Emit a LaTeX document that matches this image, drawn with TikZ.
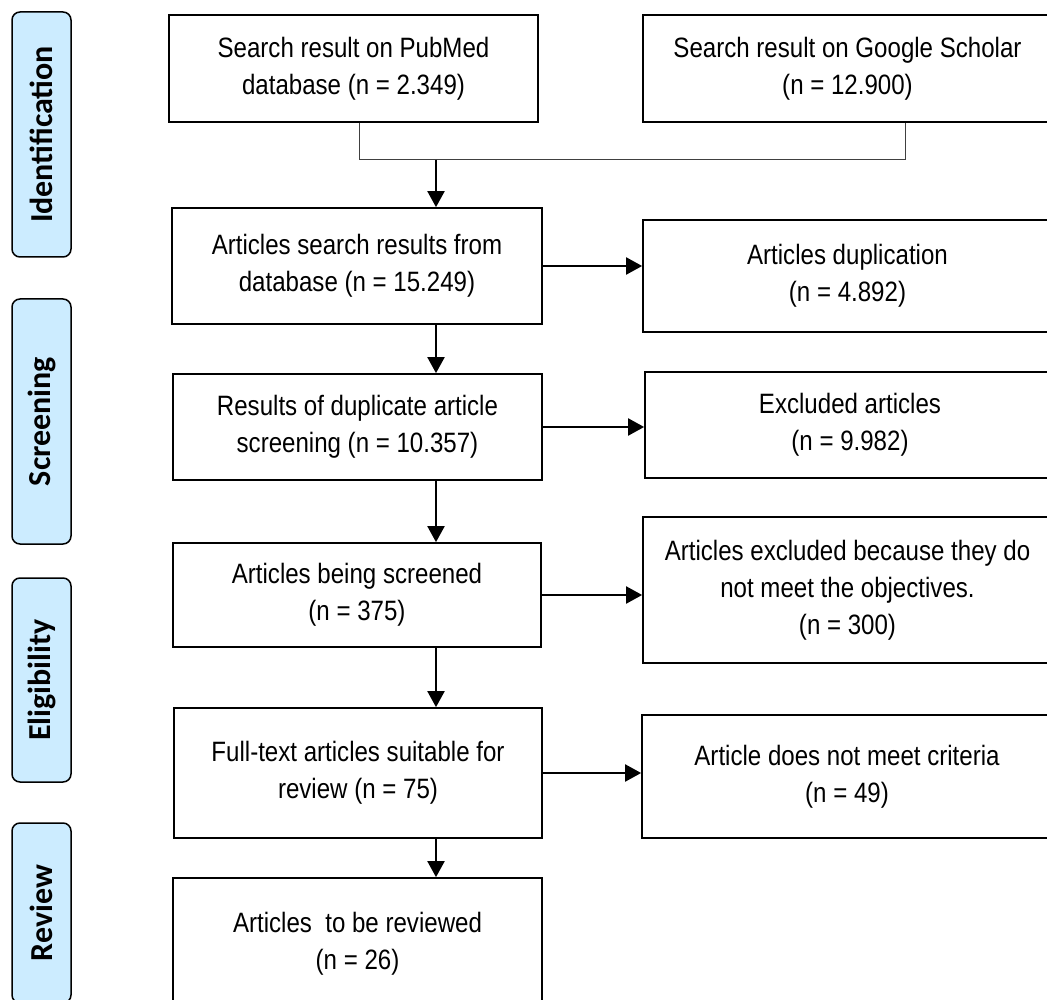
\documentclass[tikz,border=0pt]{standalone}
\usepackage{fontspec}
\setmainfont[FakeStretch=0.86]{Liberation Sans}
\newfontfamily\phasefont{Carlito}
\usepackage{xcolor}
\usetikzlibrary{arrows.meta}
\definecolor{phaseblue}{RGB}{204,236,255}
\tikzset{
	phase/.style={
			draw, line width=1.5pt, fill=phaseblue, rounded corners=8pt,
			rotate=90, minimum height=59pt, inner sep=0pt,
			font=\phasefont\bfseries\fontsize{32}{38}\selectfont
		},
	stagebox/.style={
			draw, line width=1.7pt, align=center, inner sep=0pt,
			font=\fontsize{28}{37}\selectfont
		},
	flowarrow/.style={line width=2pt, -{Triangle[length=16pt, width=17pt]}},
	mergeline/.style={line width=1pt, draw=black!75}
}

\begin{document}
\begin{tikzpicture}[x=1pt, y=-1pt]
		\useasboundingbox (0, 0) rectangle (1047, 1000);

		\node[phase, minimum width=245pt] (identification) at (41.5, 134.5) {Identification};
		\node[phase, minimum width=245pt] (screening) at (41.5, 421.5) {Screening};
		\node[phase, minimum width=204pt] (eligibility) at (41.5, 680) {Eligibility};
		\node[phase, minimum width=180pt] (review) at (41.5, 913) {Review};

		\node[stagebox, minimum width=369pt, minimum height=107pt] (pubmed) at (353.5, 68.5) {Search result on PubMed\\database (n = 2.349)};
		\node[stagebox, minimum width=409pt, minimum height=107pt] (scholar) at (847.5, 68.5) {Search result on Google Scholar\\(n = 12.900)};
		\node[stagebox, minimum width=370pt, minimum height=116pt] (found) at (357, 266) {Articles search results from\\database (n = 15.249)};
		\node[stagebox, minimum width=409pt, minimum height=112pt] (duplicates) at (847.5, 276) {Articles duplication\\(n = 4.892)};
		\node[stagebox, minimum width=369pt, minimum height=106pt] (unique) at (357.5, 427) {Results of duplicate article\\screening (n = 10.357)};
		\node[stagebox, minimum width=410pt, minimum height=106pt] (excluded) at (850, 425) {Excluded articles\\(n = 9.982)};
		\node[stagebox, minimum width=368pt, minimum height=104pt] (screened) at (357, 595) {Articles being screened\\(n = 375)};
		\node[stagebox, minimum width=409pt, minimum height=146pt] (offtopic) at (847.5, 590) {Articles excluded because they do\\not meet the objectives.\\(n = 300)};
		\node[stagebox, minimum width=368pt, minimum height=130pt] (fulltext) at (358, 773) {Full-text articles suitable for\\review (n = 75)};
		\node[stagebox, minimum width=410pt, minimum height=123pt] (nocriteria) at (847, 776.5) {Article does not meet criteria\\(n = 49)};
		\node[stagebox, minimum width=369pt, minimum height=132pt] (reviewed) at (357.5, 944) {Articles~ to be reviewed\\(n = 26)};

		\coordinate (spine) at (436, 0);
		\coordinate (jl) at (359, 160);
		\coordinate (jr) at (905, 160);

		\draw[mergeline] (pubmed.south -| jl) to (jl) to (jr) to (scholar.south -| jr);
		\draw[flowarrow] (jl -| spine) to (spine |- found.north);

		\draw[flowarrow] (found.south -| spine) to (unique.north -| spine);
		\draw[flowarrow] (unique.south -| spine) to (screened.north -| spine);
		\draw[flowarrow] (screened.south -| spine) to (fulltext.north -| spine);
		\draw[flowarrow] (fulltext.south -| spine) to (reviewed.north -| spine);

		\draw[flowarrow] (found.east) to (found.east -| duplicates.west);
		\draw[flowarrow] (unique.east) to (unique.east -| excluded.west);
		\draw[flowarrow] (screened.east) to (screened.east -| offtopic.west);
		\draw[flowarrow] (fulltext.east) to (fulltext.east -| nocriteria.west);
\end{tikzpicture}
\end{document}
